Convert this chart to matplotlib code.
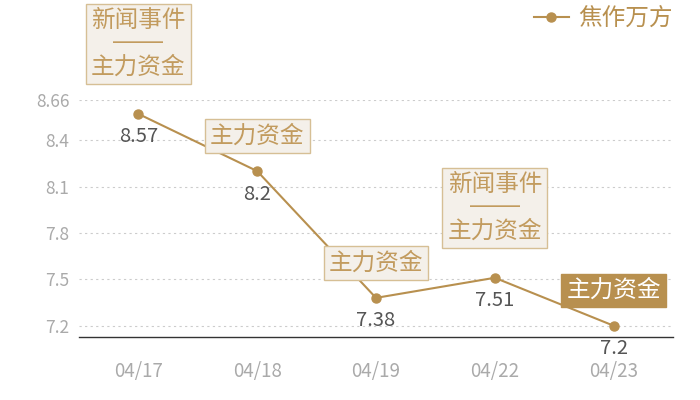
import matplotlib as mplt
mplt.use('Agg')
import matplotlib.pyplot as plt
from matplotlib.font_manager import FontProperties
import numpy as np

plt.rcParams['font.family'] = ['Noto Sans CJK SC', 'DejaVu Sans']

# data
dates = ["04/17", "04/18", "04/19", "04/22", "04/23"]
prices = [8.57, 8.2, 7.38, 7.51, 7.2]
series_name = "焦作万方"
y_ticks = [7.2, 7.5, 7.8, 8.1, 8.4, 8.66]
note_top = ["新闻事件", None, None, "新闻事件", None]
note_main = ["主力资金", "主力资金", "主力资金", "主力资金", "主力资金"]
note_filled = [False, False, False, False, True]

gold = "#b8904f"
note_text = "#c29b5e"
note_face = "#f4f0ea"
note_edge = "#d6bf95"

# the CJK font draws a short em dash, so the separator line uses a latin font
dash_font = FontProperties(family='Liberation Sans', size=18)

fig = plt.figure(figsize=(7, 4), dpi=100)
ax = fig.add_axes([79/700, 1 - 337.3/400, 594/700, 237.3/400])

x = np.arange(len(dates))
line, = ax.plot(x, prices, color=gold, linewidth=1.5, marker='o', markersize=6.5,
                label=series_name, zorder=3, clip_on=False)

ax.set_xlim(-0.5, len(dates) - 0.5)
ax.set_ylim(7.125, 8.66)
ax.set_yticks(y_ticks)
ax.set_yticklabels([str(v) for v in y_ticks])
ax.set_xticks(x)
ax.set_xticklabels(dates)

for s in ["top", "right", "left"]:
    ax.spines[s].set_visible(False)
ax.spines["bottom"].set_color("#333333")
ax.spines["bottom"].set_linewidth(1.0)
ax.tick_params(axis='y', length=0, colors="#aaaaaa", labelsize=12.5, pad=7)
ax.tick_params(axis='x', length=0, colors="#aaaaaa", labelsize=13.5, pad=17)
ax.yaxis.grid(True, linestyle=(0, (2, 3)), color="#cccccc", linewidth=0.8)
ax.set_axisbelow(True)

# value labels below points
for xi, yi in zip(x, prices):
    ax.annotate(str(yi), (xi, yi), xytext=(0, -23), textcoords='offset pixels',
                ha='center', va='center', fontsize=14.5, color="#555555", zorder=4)

# note boxes above points
for xi, yi, top, main, filled in zip(x, prices, note_top, note_main, note_filled):
    if filled:
        box = dict(boxstyle='square,pad=0.22', fc=gold, ec=gold)
        col = "white"
    else:
        box = dict(boxstyle='square,pad=0.22', fc=note_face, ec=note_edge, lw=1.0)
        col = note_text
    if top is None:
        ax.annotate(main, (xi, yi), xytext=(0, 35), textcoords='offset pixels',
                    ha='center', va='center', fontsize=17, color=col, bbox=box,
                    zorder=5, annotation_clip=False)
    else:
        ax.annotate(top + "\n\n" + main, (xi, yi), xytext=(0, 70),
                    textcoords='offset pixels', ha='center', va='center',
                    fontsize=17, color=col, bbox=box, linespacing=1.02,
                    multialignment='center', zorder=5, annotation_clip=False)
        ax.annotate("\u2014\u2014", (xi, yi), xytext=(0, 72), textcoords='offset pixels',
                    ha='center', va='center', fontproperties=dash_font, color=col,
                    zorder=6, annotation_clip=False)

leg = fig.legend(handles=[line], loc='upper right', bbox_to_anchor=(0.992, 1.035),
                 frameon=False, fontsize=17, handlelength=1.5, handletextpad=0.4,
                 labelcolor=gold)

fig.savefig("out.png", dpi=100)
